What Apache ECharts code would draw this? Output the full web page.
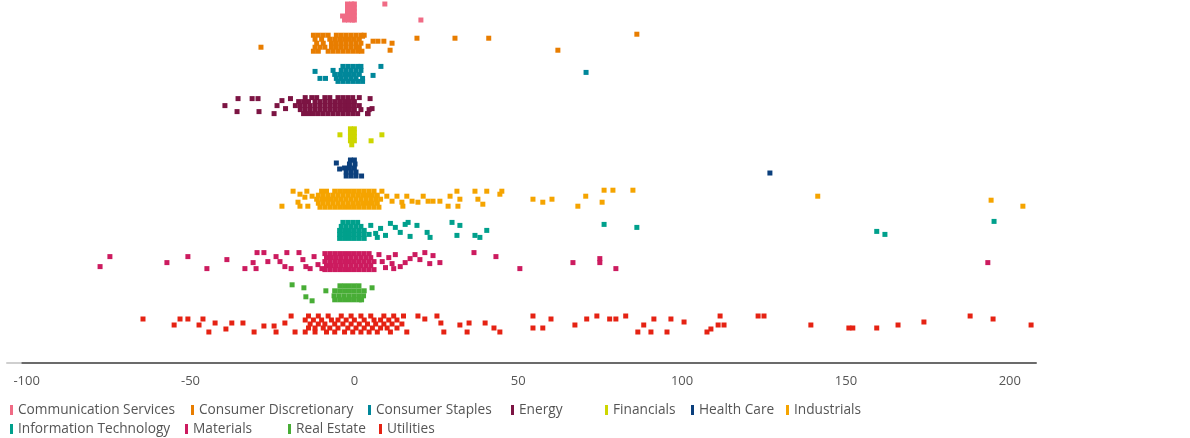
<!DOCTYPE html>
<html>
<head>
<meta charset="utf-8">
<script src="https://cdn.jsdelivr.net/npm/echarts@6.0.0/dist/echarts.min.js"></script>
<style>
html,body{margin:0;padding:0;background:#fff;}
#chart{width:1190px;height:438px;}
</style>
</head>
<body>
<div id="chart"></div>
<script>
// Categories (top to bottom)
const sectors = ['Communication Services','Consumer Discretionary','Consumer Staples','Energy','Financials','Health Care','Industrials','Information Technology','Materials','Real Estate','Utilities'];
const xTicks = [-100,-50,0,50,100,150,200];

// Each point: [value, jitter within row (in 1/31 of a row)]
const commServices = [[-2.1,-8],[-0.8,-8],[0,-8],[-2.1,-4],[-0.8,-4],[0,-4],[-2.1,0],[-0.8,0],[0,0],[-3.6,4],[-2.1,4],[-0.8,4],[0,4],[-3.0,8],[-1.8,8],[-0.6,8],[0,8],[9.3,-8],[20.3,8]];
const consDisc = [[-12.5,-8],[-11,-8],[-9.5,-8],[-8,-8],[-5.5,-8],[-4,-8],[-2.5,-8],[-1,-8],[0.5,-8],[2,-8],[3,-8],
 [-12,-4],[-10,-4],[-7.5,-4],[-6,-4],[-4.5,-4],[-3,-4],[-1.5,-4],[0,-4],[1.5,-4],
 [-11.5,0],[-9.5,0],[-7,0],[-5.5,0],[-4,0],[-2.5,0],[-1,0],[0.5,0],[2,0],
 [-12,4],[-10.5,4],[-9,4],[-7,4],[-5.5,4],[-4,4],[-2.5,4],[-1,4],[0.5,4],[1.5,4],
 [-12.5,8],[-11,8],[-8,8],[-6.5,8],[-5,8],[-3.5,8],[-2,8],[-0.5,8],[1,8],
 [2.3,8],[4.2,3],[2.5,-7],[5.7,-2],[7.2,-2],[9.0,-2],[11.5,0],[10.9,7],[-28.5,4],[19.1,-5],[30.7,-5],[41.0,-5],[62.1,7],[86.2,-9]];
const consStaples = [[-3.5,-8],[-2,-8],[-0.5,-8],[1,-8],[2,-8],
 [-6.5,-4],[-4,-4],[-2.5,-4],[-1,-4],[0.5,-4],[2,-4],
 [-6,0],[-4.5,0],[-3,0],[-1.5,0],[0,0],[1.5,0],
 [-5.5,4],[-4,4],[-2.5,4],[-1,4],[0.5,4],[2.5,4],
 [-5,7],[-3.5,7],[-2,7],[-0.5,7],[1,7],[2.5,7],
 [-12,-3],[-10.5,4],[-8.8,4],[8.1,-8],[5.7,1],[70.7,-2]];
const energy = [[-15,-8],[-13,-8],[-11.5,-8],[-9,-8],[-7.5,-8],[-5,-8],[-3.5,-8],[-2,-8],[-0.5,-8],[1.5,-8],
 [-17,-4],[-15.5,-4],[-14,-4],[-12,-4],[-10.5,-4],[-9,-4],[-7.5,-4],[-6,-4],[-4.5,-4],[-3,-4],[-1.5,-4],[0,-4],
 [-18,0],[-16.5,0],[-15,0],[-13.5,0],[-12,0],[-10.5,0],[-9,0],[-7.5,0],[-6,0],[-4.5,0],[-3,0],[-1.5,0],[0,0],[1.5,0],
 [-16.5,4],[-15,4],[-13.5,4],[-12,4],[-10.5,4],[-9,4],[-7.5,4],[-6,4],[-4.5,4],[-3,4],[-1.5,4],[0,4],[2,4],[4.5,4],
 [-15.5,8],[-14,8],[-12.5,8],[-11,8],[-9.5,8],[-8,8],[-6.5,8],[-5,8],[-3.5,8],[-2,8],[-0.5,8],[1,8],[4,8],
 [-39.5,0],[-35.5,-7],[-35.8,6],[-31.2,-7],[-29.4,-7],[-29.1,6],[-24.5,8],[-23.6,0],[-22.1,-5],[-21,3],[-19.5,-7],[4.8,-7],[5.4,3],[4.2,8]];
const financials = [[-1.2,-8],[0,-8],[-1.2,-4],[0,-4],[-1.2,0],[0,0],[-1.2,4],[0,4],[-0.8,8],[-4.4,-2],[5.1,4],[8.4,-2]];
const healthCare = [[-1.2,-8],[0,-8],[-1.5,-4],[0.2,-4],[-3,0],[-1.5,0],[0,0],[-2.5,4],[-1,4],[0.5,4],[-2.5,8],[-1,8],[0.5,8],[2.2,8],[-5.5,-5],[-4.5,1],[126.8,5]];
const industrials = [[-10,-8],[-8.5,-8],[-6,-8],[-4.5,-8],[-3,-8],[-1.5,-8],[0,-8],[1.5,-8],[3,-8],[4.5,-8],[6,-8],
 [-11,-4],[-9.5,-4],[-8,-4],[-6.5,-4],[-5,-4],[-3.5,-4],[-2,-4],[-0.5,-4],[1,-4],[2.5,-4],[4,-4],[5.5,-4],[7,-4],
 [-11.5,0],[-10,0],[-8.5,0],[-7,0],[-5.5,0],[-4,0],[-2.5,0],[-1,0],[0.5,0],[2,0],[3.5,0],[5,0],[6.5,0],[8,0],
 [-11,4],[-9.5,4],[-8,4],[-6.5,4],[-5,4],[-3.5,4],[-2,4],[-0.5,4],[1,4],[2.5,4],[4,4],[5.5,4],[7,4],
 [-10.5,8],[-9,8],[-7.5,8],[-6,8],[-4.5,8],[-3,8],[-1.5,8],[0,8],[1.5,8],[3,8],[4.5,8],[6,8],[7.5,8],
 [-22.1,7],[-18.7,-8],[-16.6,-5],[-17.2,3],[-16.6,7],[-14.5,-8],[-15.1,-2],[-14.2,7],[-12.9,-3],
 [8.4,-8],[9.9,-3],[11.5,2],[13,-3],[14.5,3],[16,-3],[17.6,2],[14.8,7],
 [19.4,3],[21,-3],[22.5,2],[24,2],[26.1,2],[28.6,7],[29.2,-3],[31.3,-8],[31.6,7],[32.2,0],[36.8,-8],[37.7,0],[39.2,5],[40.4,-8],[45,-8],[44.4,-5],
 [54.5,0],[57.5,3],[60.3,0],[68.2,7],[70.6,-3],[75.6,3],[76.2,-9],[78.9,-9],[85,-9],[141.4,-3],[194.3,1],[204,7]];
const infoTech = [[-3.5,-8],[-2,-8],[-0.5,-8],[1,-8],
 [-4,-4],[-2.5,-4],[-1,-4],[0.5,-4],[2,-4],
 [-4.5,0],[-3,0],[-1.5,0],[0,0],[1.5,0],[3,0],
 [-4.5,4],[-3,4],[-1.5,4],[0,4],[1.5,4],[3,4],[4.5,4],
 [-4.5,8],[-3,8],[-1.5,8],[0,8],[1.5,8],[3,8],
 [5,-5],[6.5,3],[8,-2],[9.5,5],[11,-7],[7,7],[12.5,-3],[14,2],[15.5,-6],[16.4,-8],[17,6],[19.1,-5],[22.2,2],[23.1,7],
 [29.8,-8],[32.2,-5],[31.3,5],[36.8,5],[38.3,7],[40.4,0],[76.2,-6],[86.2,-3],[159.4,1],[161.9,4],[195.2,-9]];
const materials = [[-9,-8],[-7.5,-8],[-6,-8],[-4.5,-8],[-3,-8],[-1.5,-8],[0,-8],[1.5,-8],[3,-8],[4.5,-8],
 [-8.5,-4],[-7,-4],[-5.5,-4],[-4,-4],[-2.5,-4],[-1,-4],[0.5,-4],[2,-4],[3.5,-4],[5,-4],
 [-9,0],[-7.5,0],[-6,0],[-4.5,0],[-3,0],[-1.5,0],[0,0],[1.5,0],[3,0],[4.5,0],[6,0],
 [-8.5,4],[-7,4],[-5.5,4],[-4,4],[-2.5,4],[-1,4],[0.5,4],[2,4],[3.5,4],[5,4],
 [-9,8],[-7.5,8],[-6,8],[-4.5,8],[-3,8],[-1.5,8],[0,8],[1.5,8],[3,8],[4.5,8],[6,8],
 [-77.6,5],[-74.6,-5],[-57.2,1],[-50.8,-5],[-45,7],[-38.9,-2],
 [-33.4,7],[-30.9,1],[-29.7,-9],[-27.6,-9],[-26.4,0],[-30,7],[-23.9,-5],[-22.7,0],[-21.2,5],[-20.6,-9],[-19.3,7],
 [-16.9,-9],[-15.7,-2],[-14.8,5],[-13.5,7],[-12.3,-5],[-11.1,3],[-9.9,7],
 [7.5,-7],[8.5,0],[9.5,6],[10.5,-4],[11.5,2],[12.5,-7],[12,7],[14,5],[15.5,1],[17,-3],[18.5,-7],[20,-2],[21.5,-9],[23,2],[24,-6],
 [26.1,1],[36.5,-9],[43.2,-5],[50.5,7],[66.7,1],[74.9,-3],[74.9,1],[79.8,7],[193.3,1]];
const realEstate = [[-4.4,-7],[-3,-7],[-1.5,-7],[0,-7],[1.4,-7],
 [-6,-2],[-4.5,-2],[-3,-2],[-1.5,-2],[0,-2],[1.5,-2],[3,-2],
 [-6.2,3],[-4.7,3],[-3.2,3],[-1.7,3],[-0.2,3],[1.3,3],[2.8,3],
 [-6,7],[-4.5,7],[-3,7],[-1.5,7],[0,7],[1.5,7],[2.2,7],
 [-19,-8],[-15.4,-5],[-14.8,4],[-12.9,8],[-8.7,-2],[5.4,-5]];
const utilities = [[-14,-8],[-11,-8],[-8,-8],[-4,-8],[-1,-8],[2,-8],[5,-8],[9,-8],[12,-8],[15,-8],
 [-15,-4],[-12.5,-4],[-10,-4],[-7,-4],[-5,-4],[-2.5,-4],[0,-4],[3,-4],[6,-4],[8,-4],[10.5,-4],[13,-4],
 [-13.5,0],[-11,0],[-9,0],[-6,0],[-3.5,0],[-1,0],[1.5,0],[4,0],[6.5,0],[9,0],[11.5,0],[14.5,0],
 [-14,4],[-12,4],[-9.5,4],[-7.5,4],[-5,4],[-2,4],[0.5,4],[3,4],[5.5,4],[8,4],[10,4],[13,4],
 [-15,8],[-12,8],[-8.5,8],[-6,8],[-3,8],[-0.5,8],[2,8],[4.5,8],[7,8],[11,8],[16,8],
 [-64.5,-5],[-55,1],[-53.2,-5],[-50.8,-5],[-47.4,1],[-46.2,-5],[-44.4,8],[-42.5,-1],[-39.2,5],[-37.4,-1],[-34,-1],[-30.6,8],[-27.6,2],[-24.5,2],[-23.9,8],[-21.2,-1],[-19.3,-8],[-18.1,8],
 [19.4,-8],[21.5,-5],[25.2,-8],[26.4,-1],[27.3,8],[32.2,1],[34.4,8],[35,-1],[39.9,-1],[42.6,4],[44.4,8],
 [54.5,-8],[54.5,4],[57.5,4],[60,-5],[67.3,1],[70.9,-5],[74,-8],[77.9,-5],[79.8,-5],[82.8,-8],[86.5,8],[88.3,1],[90.5,8],[91.4,-5],[95.4,8],[96.6,-5],[100.6,-2],
 [107.6,8],[108.8,5],[111,1],[111.6,-8],[112.8,1],[123.2,-8],[125,-8],[139.3,1],[150.9,4],[152.1,4],[159.4,4],[165.9,1],[173.8,-2],[187.9,-8],[194.9,-5],[206.5,1]];

const sectorData = [commServices,consDisc,consStaples,energy,financials,healthCare,industrials,infoTech,materials,realEstate,utilities];

// styling
const colors = ['#f06b85','#e87d00','#00879a','#7c1443','#cdd600','#0b3f7c','#f5a400','#00a08c','#cc1b5f','#48ad36','#e52213'];
const legendPos = [[10,403],[191,403],[368,403],[511,403],[605,403],[691,403],[786,403],[10,422],[185,422],[288,422],[379,422]];
const JIT = 1/31.2;

const chart = echarts.init(document.getElementById('chart'), null, {renderer:'canvas'});
const series = sectors.map((name, i) => ({
  name: name,
  type: 'scatter',
  symbol: 'rect',
  symbolSize: 5,
  itemStyle: {color: colors[i], opacity: 1},
  emphasis: {disabled: true},
  data: sectorData[i].map(p => [p[0], i + p[1]*JIT])
}));
const legends = sectors.map((name, i) => ({
  data: [name],
  left: legendPos[i][0],
  top: legendPos[i][1],
  icon: 'rect',
  itemWidth: 3,
  itemHeight: 10,
  padding: 0,
  selectedMode: false,
  textStyle: {color: '#555', fontSize: 13.7, fontFamily: 'Open Sans'}
}));

const axisColor = new echarts.graphic.LinearGradient(0, 0, 1, 0, [
  {offset: 0, color: '#cfcfcf'}, {offset: 0.016, color: '#cfcfcf'},
  {offset: 0.017, color: '#6b6b6b'}, {offset: 1, color: '#6b6b6b'}
]);

chart.setOption({
  animation: false,
  backgroundColor: '#fff',
  color: colors,
  legend: legends,
  grid: {left: 7, right: 154, top: 0, bottom: 75, containLabel: false},
  xAxis: {
    type: 'value',
    min: -106, max: 208,
    axisLine: {show: true, onZero: false, lineStyle: {color: axisColor, width: 2}},
    axisTick: {show: false},
    splitLine: {show: false},
    axisLabel: {customValues: xTicks, color: '#555', fontSize: 13, margin: 12, fontFamily: 'Open Sans'}
  },
  yAxis: {
    type: 'value', inverse: true, min: -0.385, max: 11.25, show: false
  },
  series: series
});
</script>
</body>
</html>
